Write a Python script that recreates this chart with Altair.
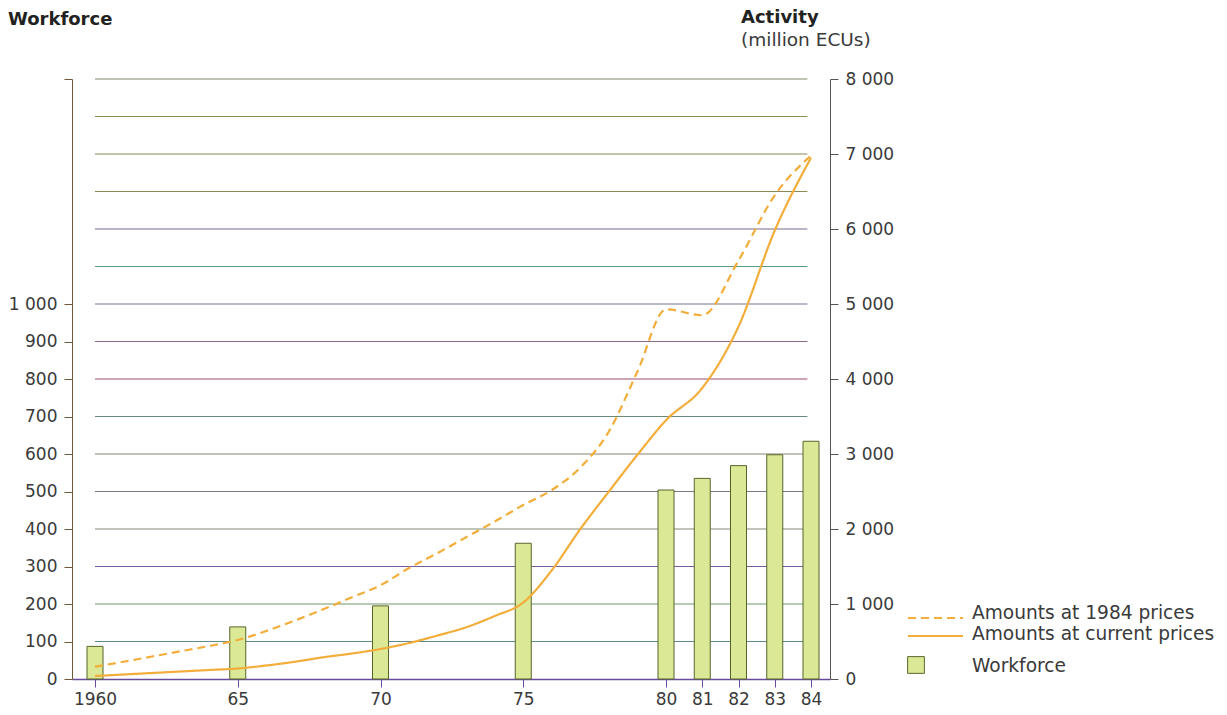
import altair as alt
import pandas as pd

# ---------------- data ----------------
LINE_YEARS = list(range(1960, 1985))
ACT_1984_PRICES = [165, 230, 300, 370, 440, 520, 640, 780, 930, 1090,
                   1250, 1480, 1680, 1890, 2100, 2320, 2520, 2820, 3300, 4100,
                   4930, 4850, 5580, 6450, 6980]
ACT_CURRENT_PRICES = [40, 60, 80, 100, 120, 140, 180, 230, 290, 340,
                      400, 480, 580, 690, 840, 1020, 1450, 2000, 2500, 2990,
                      3450, 3880, 4700, 5980, 6950]
SERIES_NAMES = ["Amounts at 1984 prices", "Amounts at current prices"]

BAR_YEARS = [1960, 1965, 1970, 1975, 1980, 1981, 1982, 1983, 1984]
WORKFORCE = [87, 139, 195, 362, 504, 535, 569, 598, 634]

X_TICKS = [1960, 1965, 1970, 1975, 1980, 1981, 1982, 1983, 1984]
LEFT_TICKS = [0, 100, 200, 300, 400, 500, 600, 700, 800, 900, 1000, 1600]
RIGHT_TICKS = [0, 1000, 2000, 3000, 4000, 5000, 6000, 7000, 8000]

GRID_VALUES = [500, 1000, 1500, 2000, 2500, 3000, 3500, 4000,
               4500, 5000, 5500, 6000, 6500, 7000, 7500, 8000]
GRID_COLORS = ["#5f8c8a", "#6f9a6a", "#7a5a9a", "#838a74", "#7a7a86", "#8a8470",
               "#6a8a7a", "#9a4e6a", "#8a6a86", "#7a7490", "#5a9a80", "#7a6a8a",
               "#8a8a52", "#8a8a5a", "#8a9050", "#7f8a66"]
GRID_START, GRID_END = 1960, 1983.9

FONT = "DejaVu Sans"
LINE_COLOR = "#f2ad3a"
BAR_FILL = "#dbe896"
BAR_STROKE = "#55652a"

# ---------------- frames ----------------
lines_df = pd.DataFrame({
    "year": LINE_YEARS * 2,
    "value": ACT_1984_PRICES + ACT_CURRENT_PRICES,
    "series": [SERIES_NAMES[0]] * len(LINE_YEARS) + [SERIES_NAMES[1]] * len(LINE_YEARS),
})
bars_df = pd.DataFrame({"year": BAR_YEARS, "workforce": WORKFORCE})
grid_df = pd.DataFrame({"y": GRID_VALUES, "color": GRID_COLORS,
                        "x0": [GRID_START] * len(GRID_VALUES),
                        "x1": [GRID_END] * len(GRID_VALUES)})

x_scale = alt.Scale(domain=[1959.2, 1960, 1980, 1984, 1984.52],
                    range=[0, 23, 594, 739, 758], zero=False, nice=False)
x_axis = alt.Axis(values=X_TICKS,
                  labelExpr="datum.value == 1960 ? '1960' : '' + (datum.value % 100)",
                  tickSize=8, tickColor="#6a4a9a", domainColor="#6a4a9a", domainWidth=1.5,
                  labelPadding=4, labelFontSize=17, labelColor="#3a3a3a", labelFont=FONT,
                  grid=False, title=None, labelFlush=False)

grid = alt.Chart(grid_df).mark_rule(strokeWidth=1.2).encode(
    x=alt.X("x0:Q", scale=x_scale, axis=x_axis),
    x2="x1:Q",
    y=alt.Y("y:Q", scale=alt.Scale(domain=[0, 8000], nice=False), axis=None),
    color=alt.Color("color:N", scale=None),
)

bars = alt.Chart(bars_df).mark_bar(size=16, fill=BAR_FILL, stroke=BAR_STROKE, strokeWidth=1).encode(
    x=alt.X("year:Q", scale=x_scale, axis=x_axis),
    y=alt.Y("workforce:Q", scale=alt.Scale(domain=[0, 1600], nice=False),
            axis=alt.Axis(orient="left", values=LEFT_TICKS,
                          labelExpr="datum.value > 1000 ? '' : replace(format(datum.value, ','), ',', ' ')",
                          tickSize=8, tickColor="#6b5a3a", domainColor="#6b5a3a",
                          labelPadding=7, labelFontSize=17, labelColor="#3a3a3a",
                          labelFont=FONT, grid=False, title=None)),
)

lines = alt.Chart(lines_df).mark_line(color=LINE_COLOR, strokeWidth=2.2, interpolate="monotone").encode(
    x=alt.X("year:Q", scale=x_scale, axis=x_axis),
    y=alt.Y("value:Q", scale=alt.Scale(domain=[0, 8000], nice=False),
            axis=alt.Axis(orient="right", values=RIGHT_TICKS,
                          labelExpr="replace(format(datum.value, ','), ',', ' ')",
                          tickSize=8, tickColor="#555555", domainColor="#555555",
                          labelPadding=7, labelFontSize=17, labelColor="#3a3a3a",
                          labelFont=FONT, grid=False, title=None)),
    strokeDash=alt.StrokeDash("series:N",
                              scale=alt.Scale(domain=SERIES_NAMES, range=[[8, 5], [1, 0]]),
                              legend=None),
    detail="series:N",
)

# ---------------- titles ----------------
def label(text, x, y, bold=False, size=18):
    return alt.Chart(pd.DataFrame({"t": [text]})).mark_text(
        align="left", baseline="alphabetic", font=FONT, fontSize=size,
        fontWeight="bold" if bold else "normal", color="#222222" if bold else "#3a3a3a",
    ).encode(x=alt.value(x), y=alt.value(y), text="t:N")

t_workforce = label("Workforce", -64, -54, bold=True)
t_activity = label("Activity", 669, -56, bold=True)
t_unit = label("(million ECUs)", 669, -33, size=18.5)

# ---------------- legend ----------------
leg_df = pd.DataFrame({"n": [0]})
leg_dash = alt.Chart(leg_df).mark_rule(color=LINE_COLOR, strokeWidth=2.2, strokeDash=[8, 5]).encode(
    x=alt.value(836), x2=alt.value(891), y=alt.value(539))
leg_solid = alt.Chart(leg_df).mark_rule(color=LINE_COLOR, strokeWidth=2.2).encode(
    x=alt.value(836), x2=alt.value(891), y=alt.value(557))
leg_box = alt.Chart(leg_df).mark_square(size=280, fill=BAR_FILL, stroke=BAR_STROKE,
                                        strokeWidth=1, opacity=1).encode(
    x=alt.value(844), y=alt.value(586))
leg_t1 = label(SERIES_NAMES[0], 900, 540, size=18.6)
leg_t2 = label(SERIES_NAMES[1], 900, 561, size=18.6)
leg_t3 = label("Workforce", 900, 593, size=18.6)

chart = alt.layer(
    grid, bars, lines,
    t_workforce, t_activity, t_unit,
    leg_dash, leg_solid, leg_box, leg_t1, leg_t2, leg_t3,
).resolve_scale(y="independent").properties(
    width=758, height=600,
    autosize=alt.AutoSizeParams(type="none"),
    padding={"left": 72, "top": 79, "right": 397, "bottom": 36},
    background="white",
).configure_view(stroke=None)

chart.save("out.html", embed_options={"renderer": "svg", "actions": False})
